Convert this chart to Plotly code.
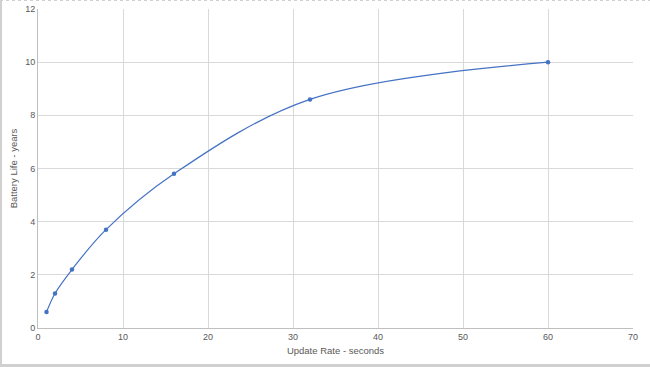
import plotly.graph_objects as go

update_rate = [1, 2, 4, 8, 16, 32, 60]
battery_life = [0.6, 1.3, 2.2, 3.7, 5.8, 8.6, 10.0]

x_ticks = [0, 10, 20, 30, 40, 50, 60, 70]
y_ticks = [0, 2, 4, 6, 8, 10, 12]

W, H = 650, 367
L, R, T, B = 38, 17, 9, 39
pw, ph = W - L - R, H - T - B

def px_x(p):
    return (p - L) / pw

def px_y(p):
    return (H - B - p) / ph

fig = go.Figure()
fig.add_trace(go.Scatter(
    x=update_rate, y=battery_life, mode="lines+markers",
    line=dict(color="#4472C4", width=1.2, shape="spline", smoothing=1.0),
    marker=dict(color="#4472C4", size=4.5, symbol="circle"),
    showlegend=False, hoverinfo="x+y",
))

axis_font = dict(family="Liberation Sans, Arial, sans-serif", size=9, color="#595959")
title_font = dict(family="Liberation Sans, Arial, sans-serif", size=9.5, color="#595959")

fig.update_layout(
    width=W, height=H,
    margin=dict(l=L, r=R, t=T, b=B, autoexpand=False),
    paper_bgcolor="white", plot_bgcolor="white",
    font=axis_font,
    xaxis=dict(
        range=[0, 70], tickvals=x_ticks, ticktext=[str(v) for v in x_ticks],
        showgrid=True, gridcolor="#d9d9d9", gridwidth=1,
        showline=True, linecolor="#bfbfbf", linewidth=1,
        zeroline=False, ticks="", tickfont=axis_font, automargin=False,
        title=dict(text="Update Rate - seconds", font=title_font, standoff=6),
    ),
    yaxis=dict(
        range=[0, 12], tickvals=y_ticks, ticktext=[str(v) for v in y_ticks],
        showgrid=True, gridcolor="#d9d9d9", gridwidth=1,
        showline=True, linecolor="#bfbfbf", linewidth=1,
        zeroline=False, ticks="", tickfont=axis_font, automargin=False,
        title=dict(text="Battery Life - years", font=title_font, standoff=5),
    ),
    shapes=[
        dict(type="line", xref="paper", yref="paper",
             x0=px_x(1), x1=px_x(1), y0=px_y(0), y1=px_y(367),
             line=dict(color="#d0d0d0", width=2)),
        dict(type="line", xref="paper", yref="paper",
             x0=px_x(0), x1=px_x(650), y0=px_y(0.5), y1=px_y(0.5),
             line=dict(color="#d0d0d0", width=1, dash="dot")),
        dict(type="line", xref="paper", yref="paper",
             x0=px_x(0), x1=px_x(650), y0=px_y(365.5), y1=px_y(365.5),
             line=dict(color="#d0d0d0", width=3)),
    ],
)

fig.write_html("out.html")
